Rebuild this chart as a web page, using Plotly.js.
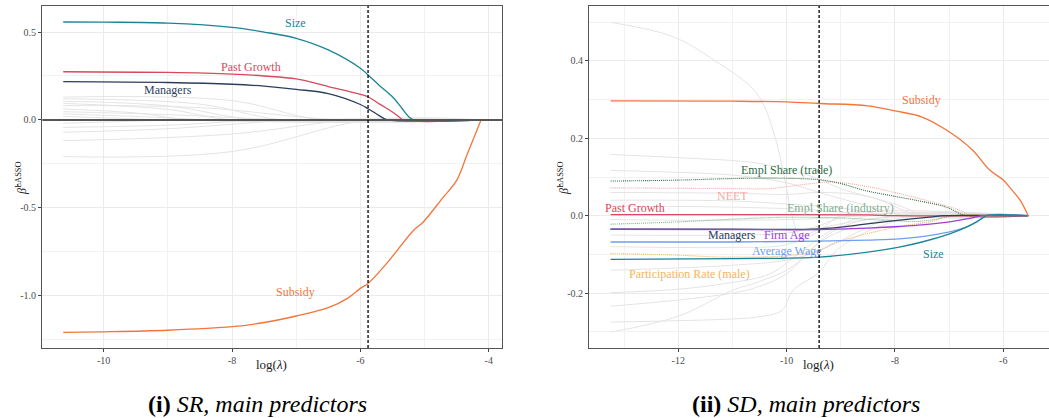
<!DOCTYPE html>
<html>
<head>
<meta charset="utf-8">
<script src="https://cdn.plot.ly/plotly-3.0.1.min.js"></script>
<style>html,body{margin:0;padding:0;background:#fff;}#chart{width:1049px;height:418px;}</style>
</head>
<body>
<div id="chart"></div>
<script>
// ---------- Panel (i): SR ----------
const srSizeX = [-10.63,-10,-9,-8,-7.5,-7,-6.5,-6,-5.88,-5.7,-5.5,-5.35,-5.25,-5.17,-4.12];
const srSizeY = [0.557,0.556,0.551,0.527,0.500,0.464,0.398,0.294,0.256,0.195,0.132,0.065,0.02,0,0];
const srGrowthX = [-10.63,-9,-8,-7.5,-7,-6.5,-6,-5.88,-5.7,-5.5,-5.4,-5.33,-4.12];
const srGrowthY = [0.274,0.270,0.261,0.250,0.233,0.190,0.146,0.132,0.09,0.045,0.018,0,0];
const srMgrX = [-10.63,-9,-8,-7.5,-7,-6.5,-6,-5.88,-5.75,-5.65,-5.57,-4.12];
const srMgrY = [0.218,0.213,0.203,0.192,0.174,0.150,0.088,0.064,0.035,0.012,0,0];
const srSubX = [-10.63,-10,-9,-8,-7.5,-7,-6.5,-6.2,-6,-5.88,-5.59,-5.17,-5.02,-4.71,-4.5,-4.34,-4.12];
const srSubY = [-1.208,-1.205,-1.196,-1.176,-1.152,-1.115,-1.068,-1.015,-0.958,-0.93,-0.816,-0.627,-0.58,-0.44,-0.344,-0.20,0];
// other (grey) predictors: start value, mid point, zero point
const srGreyStart = [0.13,0.12,0.106,0.094,0.081,0.062,0.047,0.034,0.02,-0.019,-0.042,-0.07,-0.118,-0.209];
const srGreyMidX  = [-8,-8.5,-9,-9,-8.5,-9.5,-9,-9.5,-9.8,-9.8,-9,-9,-8,-8];
const srGreyMidY  = [0.11,0.09,0.08,0.06,0.07,0.04,0.03,0.02,0.01,-0.01,-0.03,-0.05,-0.08,-0.18];
const srGreyEndX  = [-6.6,-7.2,-7.6,-8.0,-6.3,-8.6,-7.0,-8.2,-9.0,-8.8,-7.4,-6.9,-6.1,-5.88];
const srCutoff = -5.88;

// ---------- Panel (ii): SD ----------
const sdSubX = [-13.25,-11,-10,-9.4,-8.5,-8,-7.5,-7,-6.57,-6.25,-6,-5.85,-5.69,-5.54];
const sdSubY = [0.297,0.296,0.294,0.29,0.284,0.271,0.255,0.217,0.17,0.118,0.092,0.068,0.04,0];
const sdTradeX = [-13.25,-12,-11,-10.2,-9.4,-9,-8.55,-8,-7.62,-7.05,-6.68,-5.54];
const sdTradeY = [0.0895,0.092,0.096,0.097,0.093,0.083,0.065,0.05,0.04,0.022,0,0];
const sdNeetX = [-13.25,-11,-10.3,-10,-9.6,-9.14,-8.5,-7.92,-7.3,-6.8,-6.6,-5.54];
const sdNeetY = [0.072,0.07,0.07,0.075,0.082,0.087,0.075,0.057,0.035,0.014,0,0];
const sdGrowthX = [-13.25,-10,-8.5,-8.0,-5.54];
const sdGrowthY = [0.003,0.003,0.002,0,0];
const sdIndusX = [-13.25,-12,-11,-10,-9,-8,-7.6,-7.2,-6.9,-5.54];
const sdIndusY = [-0.022,-0.016,-0.009,-0.004,-0.006,-0.013,-0.015,-0.008,0,0];
const sdMgrX = [-13.25,-11,-9.4,-8.55,-8,-7.6,-7.3,-7.1,-5.54];
const sdMgrY = [-0.035,-0.035,-0.034,-0.022,-0.013,-0.007,-0.003,0,0];
const sdAgeX = [-13.25,-11,-9.4,-8.5,-7.92,-7.5,-6.99,-6.7,-6.5,-6.4,-5.54];
const sdAgeY = [-0.035,-0.036,-0.036,-0.032,-0.028,-0.024,-0.016,-0.009,-0.003,0,0];
const sdWageX = [-13.25,-11,-9.4,-8.5,-7.92,-7.5,-6.99,-6.7,-6.5,-6.31,-5.54];
const sdWageY = [-0.068,-0.068,-0.066,-0.063,-0.06,-0.054,-0.042,-0.03,-0.017,0,0];
const sdSizeX = [-13.25,-11,-9.4,-8.5,-7.92,-7.5,-6.99,-6.7,-6.56,-6.4,-6.31,-5.54];
const sdSizeY = [-0.113,-0.111,-0.107,-0.094,-0.081,-0.068,-0.047,-0.031,-0.021,-0.008,0,0];
const sdPartX = [-13.25,-12,-11.17,-9.94,-9.4,-9.14,-8.52,-7.92,-7.3,-7.0,-5.54];
const sdPartY = [-0.098,-0.102,-0.107,-0.103,-0.09,-0.072,-0.047,-0.028,-0.014,0,0];
const sdGreyX = [
  [-13.25,-12.1,-11.35,-10.55,-10.25,-10.03,-9.9,-9.75,-9.3,-8.5,-7.6],
  [-13.25,-12,-11,-10.5,-10,-9.7,-9.4,-9,-8.5,-7.5],
  [-13.25,-11,-10.55,-10.09,-9.88,-9.4,-9.08,-8.5,-7.5],
  [-13.25,-12,-11,-10.55,-10,-9.5,-9,-8],
  [-13.25,-12,-11.17,-10.3,-9.8,-9.2,-8.5],
  [-13.25,-12,-11,-10,-9.4,-8.5,-8],
  [-13.25,-12,-10.5,-9.5,-9,-8,-7.4],
  [-13.25,-12,-11,-10,-9.4,-8.5,-7.8],
  [-13.25,-11,-10,-9.4,-8.5,-7.5],
  [-13.25,-11,-10,-9,-8],
  [-13.25,-11,-9.5,-8.2],
  [-13.25,-11,-9.5,-8.5],
  [-13.25,-11,-10,-9.5,-8.8],
  [-13.25,-11,-10,-9.4,-9]
];
const sdGreyY = [
  [0.5,0.463,0.403,0.316,0.22,0.092,0.0,-0.05,-0.03,-0.01,0],
  [-0.301,-0.26,-0.193,-0.17,-0.141,-0.11,-0.07,-0.04,-0.02,0],
  [-0.275,-0.267,-0.262,-0.245,-0.193,-0.146,-0.09,-0.04,0],
  [-0.234,-0.218,-0.2,-0.185,-0.15,-0.08,-0.03,0],
  [-0.199,-0.19,-0.176,-0.15,-0.1,-0.04,0],
  [-0.141,-0.135,-0.128,-0.115,-0.09,-0.03,0],
  [0.158,0.15,0.135,0.1,0.07,0.03,0],
  [0.117,0.112,0.105,0.085,0.06,0.025,0],
  [0.06,0.058,0.055,0.06,0.05,0],
  [0.04,0.038,0.03,0.02,0],
  [0.025,0.022,0.015,0],
  [-0.01,-0.012,-0.008,0],
  [-0.05,-0.05,-0.045,-0.03,0],
  [-0.08,-0.082,-0.075,-0.04,0]
];
const sdCutoff = -9.40;

// tick labels
const srXTicks = [-10,-8,-6,-4];
const srXLabels = ['-10','-8','-6','-4'];
const srYTicks = [0.5,0,-0.5,-1.0];
const srYLabels = ['0.5','0.0','-0.5','-1.0'];
const sdXTicks = [-12,-10,-8,-6];
const sdXLabels = ['-12','-10','-8','-6'];
const sdYTicks = [0.4,0.2,0,-0.2];
const sdYLabels = ['0.4','0.2','0.0','-0.2'];

// colours
const C = {
  size:'#1b8596', growth:'#d9485c', mgr:'#2c3e5e', sub:'#f4743b',
  trade:'#2f6b44', neet:'#f6aaa3', indus:'#7fae8e', age:'#a03ed4',
  wage:'#6f9ef0', part:'#f3b460', grey:'#e4e4e4'
};
const SERIF = 'Liberation Serif';

const traces = [];
function line(x, y, color, xa, ya, dash, width) {
  traces.push({x:x, y:y, xaxis:xa, yaxis:ya, type:'scatter', mode:'lines',
    line:{color:color, width:width||1.3, shape:'spline', smoothing:1.0, dash:dash||'solid'},
    hoverinfo:'skip', showlegend:false});
}
// grey SR lines
for (let i = 0; i < srGreyStart.length; i++) {
  line([-10.63, srGreyMidX[i], srGreyEndX[i], -4.12],
       [srGreyStart[i], srGreyMidY[i], 0, 0], C.grey, 'x', 'y', 'solid', 1);
}
line(srSubX, srSubY, C.sub, 'x', 'y');
line(srMgrX, srMgrY, C.mgr, 'x', 'y');
line(srGrowthX, srGrowthY, C.growth, 'x', 'y');
line(srSizeX, srSizeY, C.size, 'x', 'y');

// grey SD lines
for (let i = 0; i < sdGreyX.length; i++) {
  line(sdGreyX[i].concat([-5.54]), sdGreyY[i].concat([0]), C.grey, 'x2', 'y2', 'solid', 1);
}
const DOT = '1px,1px';
line(sdPartX, sdPartY, C.part, 'x2', 'y2', DOT, 1.1);
line(sdIndusX, sdIndusY, C.indus, 'x2', 'y2', DOT, 1.1);
line(sdNeetX, sdNeetY, C.neet, 'x2', 'y2', DOT, 1.1);
line(sdTradeX, sdTradeY, C.trade, 'x2', 'y2', DOT, 1.1);
line(sdGrowthX, sdGrowthY, C.growth, 'x2', 'y2');
line(sdMgrX, sdMgrY, C.mgr, 'x2', 'y2');
line(sdAgeX, sdAgeY, C.age, 'x2', 'y2');
line(sdWageX, sdWageY, C.wage, 'x2', 'y2');
line(sdSizeX, sdSizeY, C.size, 'x2', 'y2');
line(sdSubX, sdSubY, C.sub, 'x2', 'y2');

const gridC = '#ebebeb';
const tickFont = {family:SERIF, size:10, color:'#4d4d4d'};
function xax(domain, range, tv, tt, minorVals) {
  return {domain:domain, range:range, tickvals:tv, ticktext:tt, showgrid:true, gridcolor:gridC, gridwidth:1,
    minor:{tickvals:minorVals, showgrid:true, gridcolor:'#f2f2f2', gridwidth:1, ticklen:0},
    zeroline:false, showline:true, linecolor:'#555', linewidth:1.3, mirror:true,
    ticks:'outside', ticklen:3, tickcolor:'#444', tickfont:tickFont};
}
function yax(domain, range, tv, tt, minorVals, anchor) {
  return {domain:domain, range:range, anchor:anchor, tickvals:tv, ticktext:tt, showgrid:true, gridcolor:gridC, gridwidth:1,
    minor:{tickvals:minorVals, showgrid:true, gridcolor:'#f2f2f2', gridwidth:1, ticklen:0},
    zeroline:false, showline:true, linecolor:'#555', linewidth:1.3, mirror:true,
    ticks:'outside', ticklen:3, tickcolor:'#444', tickfont:tickFont};
}

function lab(text, x, y, color, xr, yr) {
  return {text:text, x:x, y:y, xref:xr, yref:yr, showarrow:false, xanchor:'center', yanchor:'middle',
    font:{family:SERIF, size:12, color:color}};
}
const ann = [
  lab('Size', -7.01, 0.549, C.size, 'x', 'y'),
  lab('Past Growth', -7.71, 0.301, C.growth, 'x', 'y'),
  lab('Managers', -9.0, 0.170, C.mgr, 'x', 'y'),
  lab('Subsidy', -7.01, -0.977, C.sub, 'x', 'y'),
  lab('Subsidy', -7.51, 0.300, C.sub, 'x2', 'y2'),
  lab('Empl Share (trade)', -10.0, 0.119, C.trade, 'x2', 'y2'),
  lab('NEET', -11.0, 0.051, C.neet, 'x2', 'y2'),
  lab('Past Growth', -12.8, 0.020, C.growth, 'x2', 'y2'),
  lab('Empl Share (industry)', -9.0, 0.020, C.indus, 'x2', 'y2'),
  lab('Managers', -11.0, -0.049, C.mgr, 'x2', 'y2'),
  lab('Firm Age', -10.0, -0.049, C.age, 'x2', 'y2'),
  lab('Average Wage', -10.0, -0.0905, C.wage, 'x2', 'y2'),
  lab('Size', -7.29, -0.100, C.size, 'x2', 'y2'),
  lab('Participation Rate (male)', -11.8, -0.150, C.part, 'x2', 'y2'),
  // axis titles
  {text:'log(<i>λ</i>)', x:271.7/1049, y:1-364/418, xref:'paper', yref:'paper', showarrow:false,
   xanchor:'center', yanchor:'middle', font:{family:SERIF, size:13, color:'#222'}},
  {text:'log(<i>λ</i>)', x:818.3/1049, y:1-364/418, xref:'paper', yref:'paper', showarrow:false,
   xanchor:'center', yanchor:'middle', font:{family:SERIF, size:13, color:'#222'}},
  {text:'<i>β̂</i><sup>LASSO</sup>', x:21/1049, y:1-178/418, xref:'paper', yref:'paper', showarrow:false,
   textangle:-90, xanchor:'center', yanchor:'middle', font:{family:SERIF, size:12, color:'#222'}},
  {text:'<i>β̂</i><sup>LASSO</sup>', x:563/1049, y:1-178/418, xref:'paper', yref:'paper', showarrow:false,
   textangle:-90, xanchor:'center', yanchor:'middle', font:{family:SERIF, size:12, color:'#222'}},
  // captions
  {text:'<b>(i)</b> <i>SR, main predictors</i>', x:257.5/1049, y:1-404/418, xref:'paper', yref:'paper',
   showarrow:false, xanchor:'center', yanchor:'middle', font:{family:SERIF, size:24, color:'#000'}},
  {text:'<b>(ii)</b> <i>SD, main predictors</i>', x:806/1049, y:1-404/418, xref:'paper', yref:'paper',
   showarrow:false, xanchor:'center', yanchor:'middle', font:{family:SERIF, size:24, color:'#000'}}
];

const shapes = [
  {type:'line', xref:'x domain', yref:'y', x0:0, x1:1, y0:0, y1:0, line:{color:'#555', width:2}},
  {type:'line', xref:'x', yref:'y domain', x0:srCutoff, x1:srCutoff, y0:0, y1:1, line:{color:'#000', width:1.3, dash:'3px,2px'}},
  {type:'line', xref:'x2', yref:'y2 domain', x0:sdCutoff, x1:sdCutoff, y0:0, y1:1, line:{color:'#000', width:1.3, dash:'3px,2px'}}
];

const yDom = [1-348/418, 1-6/418];
const layout = {
  width:1049, height:418, margin:{l:0, r:0, t:0, b:0},
  paper_bgcolor:'#fff', plot_bgcolor:'#fff', showlegend:false,
  font:{family:SERIF},
  xaxis: Object.assign(xax([42.3/1049, 502/1049], [-10.956, -3.793], srXTicks, srXLabels, [-11,-9,-7,-5]), {anchor:'y'}),
  yaxis: yax(yDom, [-1.297, 0.648], srYTicks, srYLabels, [0.25,-0.25,-0.75,-1.25], 'x'),
  xaxis2: Object.assign(xax([589.3/1049, 1], [-13.643, -5.156], sdXTicks, sdXLabels, [-13,-11,-9,-7,-5]), {anchor:'y2'}),
  yaxis2: yax(yDom, [-0.342, 0.542], sdYTicks, sdYLabels, [0.5,0.3,0.1,-0.1,-0.3], 'x2'),
  annotations: ann, shapes: shapes
};
Plotly.newPlot('chart', traces, layout, {staticPlot:true, displayModeBar:false});
</script>
</body>
</html>
